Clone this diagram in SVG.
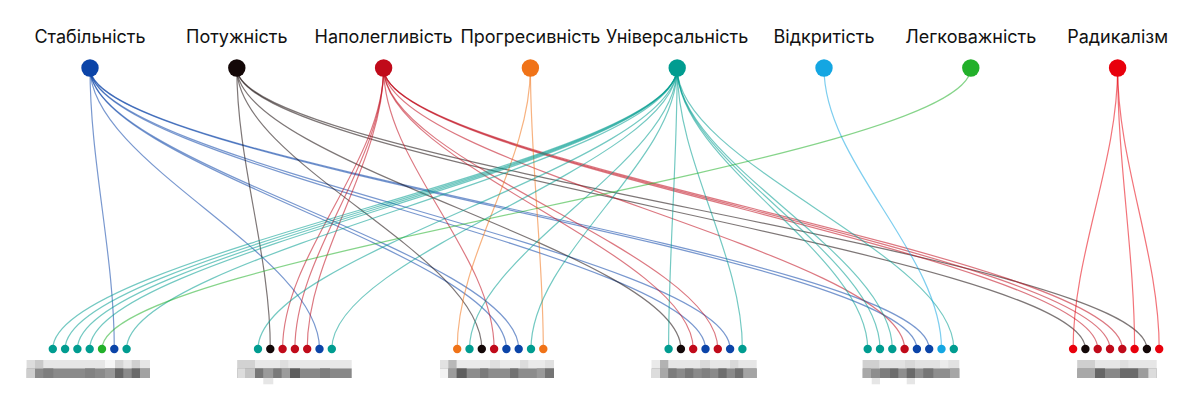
<svg xmlns="http://www.w3.org/2000/svg" width="1200" height="399" viewBox="0 0 1200 399">
<style>
.lbl{font-family:Inter,"Noto Sans","Liberation Sans",sans-serif;font-size:18px;fill:#111;text-anchor:middle}
.e{fill:none;stroke-width:1.2;stroke-opacity:.55}
.s-stab{stroke:#0b44a8}.f-stab{fill:#0b44a8}
.s-pot{stroke:#140808}.f-pot{fill:#140808}
.s-nap{stroke:#c00a1a}.f-nap{fill:#c00a1a}
.s-prog{stroke:#f07318}.f-prog{fill:#f07318}
.s-univ{stroke:#009c90}.f-univ{fill:#009c90}
.s-vid{stroke:#14a6e2}.f-vid{fill:#14a6e2}
.s-leg{stroke:#22b02a}.f-leg{fill:#22b02a}
.s-rad{stroke:#e8000c}.f-rad{fill:#e8000c}
.m rect{stroke:none}
</style>
<rect width="1200" height="399" fill="#fff"/>
<g id="connectors">
<path class="e s-stab" d="M90,68 C90,163 114.3,254 114.3,349"/>
<path class="e s-stab" d="M90,68 C90,163 319.5,254 319.5,349"/>
<path class="e s-stab" d="M90,68 C90,163 506.4,254 506.4,349"/>
<path class="e s-stab" d="M90,68 C90,163 518.7,254 518.7,349"/>
<path class="e s-stab" d="M90,68 C90,163 705.5,254 705.5,349"/>
<path class="e s-stab" d="M90,68 C90,163 730.1,254 730.1,349"/>
<path class="e s-stab" d="M90,68 C90,163 916.9,254 916.9,349"/>
<path class="e s-stab" d="M90,68 C90,163 929.2,254 929.2,349"/>
<path class="e s-pot" d="M236.8,68 C236.8,163 270.3,254 270.3,349"/>
<path class="e s-pot" d="M236.8,68 C236.8,163 481.8,254 481.8,349"/>
<path class="e s-pot" d="M236.8,68 C236.8,163 680.9,254 680.9,349"/>
<path class="e s-pot" d="M236.8,68 C236.8,163 1085.4,254 1085.4,349"/>
<path class="e s-pot" d="M236.8,68 C236.8,163 1146.9,254 1146.9,349"/>
<path class="e s-nap" d="M383.6,68 C383.6,163 282.6,254 282.6,349"/>
<path class="e s-nap" d="M383.6,68 C383.6,163 294.9,254 294.9,349"/>
<path class="e s-nap" d="M383.6,68 C383.6,163 307.2,254 307.2,349"/>
<path class="e s-nap" d="M383.6,68 C383.6,163 494.1,254 494.1,349"/>
<path class="e s-nap" d="M383.6,68 C383.6,163 693.2,254 693.2,349"/>
<path class="e s-nap" d="M383.6,68 C383.6,163 717.8,254 717.8,349"/>
<path class="e s-nap" d="M383.6,68 C383.6,163 904.6,254 904.6,349"/>
<path class="e s-nap" d="M383.6,68 C383.6,163 1097.7,254 1097.7,349"/>
<path class="e s-nap" d="M383.6,68 C383.6,163 1110,254 1110,349"/>
<path class="e s-nap" d="M383.6,68 C383.6,163 1122.3,254 1122.3,349"/>
<path class="e s-prog" d="M530.4,68 C530.4,163 457.2,254 457.2,349"/>
<path class="e s-prog" d="M530.4,68 C530.4,163 543.3,254 543.3,349"/>
<path class="e s-univ" d="M677.2,68 C677.2,163 52.8,254 52.8,349"/>
<path class="e s-univ" d="M677.2,68 C677.2,163 65.1,254 65.1,349"/>
<path class="e s-univ" d="M677.2,68 C677.2,163 77.4,254 77.4,349"/>
<path class="e s-univ" d="M677.2,68 C677.2,163 89.7,254 89.7,349"/>
<path class="e s-univ" d="M677.2,68 C677.2,163 126.6,254 126.6,349"/>
<path class="e s-univ" d="M677.2,68 C677.2,163 258,254 258,349"/>
<path class="e s-univ" d="M677.2,68 C677.2,163 331.8,254 331.8,349"/>
<path class="e s-univ" d="M677.2,68 C677.2,163 469.5,254 469.5,349"/>
<path class="e s-univ" d="M677.2,68 C677.2,163 531,254 531,349"/>
<path class="e s-univ" d="M677.2,68 C677.2,163 668.6,254 668.6,349"/>
<path class="e s-univ" d="M677.2,68 C677.2,163 742.4,254 742.4,349"/>
<path class="e s-univ" d="M677.2,68 C677.2,163 867.7,254 867.7,349"/>
<path class="e s-univ" d="M677.2,68 C677.2,163 880,254 880,349"/>
<path class="e s-univ" d="M677.2,68 C677.2,163 892.3,254 892.3,349"/>
<path class="e s-univ" d="M677.2,68 C677.2,163 953.8,254 953.8,349"/>
<path class="e s-vid" d="M824,68 C824,163 941.5,254 941.5,349"/>
<path class="e s-leg" d="M970.8,68 C970.8,163 102,254 102,349"/>
<path class="e s-rad" d="M1117.6,68 C1117.6,163 1073.1,254 1073.1,349"/>
<path class="e s-rad" d="M1117.6,68 C1117.6,163 1134.6,254 1134.6,349"/>
<path class="e s-rad" d="M1117.6,68 C1117.6,163 1159.2,254 1159.2,349"/>
</g>
<g id="node-stabilnist"><text class="lbl" x="90" y="43">Стабільність</text><circle class="f-stab" cx="90" cy="68" r="8.7"/></g>
<g id="node-potuzhnist"><text class="lbl" x="236.8" y="43">Потужність</text><circle class="f-pot" cx="236.8" cy="68" r="8.7"/></g>
<g id="node-napolehlyvist"><text class="lbl" x="383.6" y="43">Наполегливість</text><circle class="f-nap" cx="383.6" cy="68" r="8.7"/></g>
<g id="node-prohresyvnist"><text class="lbl" x="530.4" y="43">Прогресивність</text><circle class="f-prog" cx="530.4" cy="68" r="8.7"/></g>
<g id="node-universalnist"><text class="lbl" x="677.2" y="43">Універсальність</text><circle class="f-univ" cx="677.2" cy="68" r="8.7"/></g>
<g id="node-vidkrytist"><text class="lbl" x="824" y="43">Відкритість</text><circle class="f-vid" cx="824" cy="68" r="8.7"/></g>
<g id="node-lehkovazhnist"><text class="lbl" x="970.8" y="43">Легковажність</text><circle class="f-leg" cx="970.8" cy="68" r="8.7"/></g>
<g id="node-radykalizm"><text class="lbl" x="1117.6" y="43">Радикалізм</text><circle class="f-rad" cx="1117.6" cy="68" r="8.7"/></g>
<g id="group-1">
<g class="m">
<rect x="26.7" y="360" width="123.3" height="8.4" fill="#e6e6e6"/>
<rect x="26.7" y="360" width="8.3" height="8.4" fill="#dcdcdc"/>
<rect x="35" y="360" width="8.3" height="8.4" fill="#c9c9c9"/>
<rect x="105" y="360" width="10" height="8.4" fill="#f6f6f6"/>
<rect x="115" y="360" width="8.3" height="8.4" fill="#d4d4d4"/>
<rect x="131.7" y="360" width="8.3" height="8.4" fill="#d0d0d0"/>
<rect x="26.7" y="368.4" width="123.3" height="9.6" fill="#8a8a8a"/>
<rect x="26.7" y="368.4" width="8.3" height="9.6" fill="#cdcdcd"/>
<rect x="43.3" y="368.4" width="10" height="9.6" fill="#7e7e7e"/>
<rect x="85" y="368.4" width="10" height="9.6" fill="#828282"/>
<rect x="105" y="368.4" width="10" height="9.6" fill="#989898"/>
<rect x="115" y="368.4" width="8.3" height="9.6" fill="#666"/>
<rect x="131.7" y="368.4" width="8.3" height="9.6" fill="#6a6a6a"/>
<rect x="140" y="368.4" width="10" height="9.6" fill="#a2a2a2"/>
</g>
<circle class="f-univ" cx="52.8" cy="349" r="4.2"/>
<circle class="f-univ" cx="65.1" cy="349" r="4.2"/>
<circle class="f-univ" cx="77.4" cy="349" r="4.2"/>
<circle class="f-univ" cx="89.7" cy="349" r="4.2"/>
<circle class="f-leg" cx="102" cy="349" r="4.2"/>
<circle class="f-stab" cx="114.3" cy="349" r="4.2"/>
<circle class="f-univ" cx="126.6" cy="349" r="4.2"/>
</g>
<g id="group-2">
<g class="m">
<rect x="237.3" y="360" width="114.4" height="8.4" fill="#e8e8e8"/>
<rect x="237.3" y="360" width="17.7" height="8.4" fill="#d2d2d2"/>
<rect x="280" y="360" width="8.3" height="8.4" fill="#dedede"/>
<rect x="237.3" y="368.4" width="114.4" height="9.6" fill="#888"/>
<rect x="237.3" y="368.4" width="7.7" height="9.6" fill="#dcdcdc"/>
<rect x="245" y="368.4" width="10" height="9.6" fill="#c4c4c4"/>
<rect x="255" y="368.4" width="8.3" height="9.6" fill="#777"/>
<rect x="263.3" y="368.4" width="10" height="9.6" fill="#9a9a9a"/>
<rect x="273.3" y="368.4" width="8.3" height="9.6" fill="#7a7a7a"/>
<rect x="281.7" y="368.4" width="8.3" height="9.6" fill="#9c9c9c"/>
<rect x="290" y="368.4" width="10" height="9.6" fill="#5e5e5e"/>
<rect x="320" y="368.4" width="10" height="9.6" fill="#7c7c7c"/>
<rect x="263.3" y="378" width="10" height="6.3" fill="#e6e6e6"/>
</g>
<circle class="f-univ" cx="258" cy="349" r="4.2"/>
<circle class="f-pot" cx="270.3" cy="349" r="4.2"/>
<circle class="f-nap" cx="282.6" cy="349" r="4.2"/>
<circle class="f-nap" cx="294.9" cy="349" r="4.2"/>
<circle class="f-nap" cx="307.2" cy="349" r="4.2"/>
<circle class="f-stab" cx="319.5" cy="349" r="4.2"/>
<circle class="f-univ" cx="331.8" cy="349" r="4.2"/>
</g>
<g id="group-3">
<g class="m">
<rect x="440" y="360" width="114" height="8.4" fill="#eaeaea"/>
<rect x="440" y="360" width="8.3" height="8.4" fill="#e2e2e2"/>
<rect x="448.3" y="360" width="8.3" height="8.4" fill="#b8b8b8"/>
<rect x="490" y="360" width="10" height="8.4" fill="#e0e0e0"/>
<rect x="520" y="360" width="8.3" height="8.4" fill="#dcdcdc"/>
<rect x="545" y="360" width="9" height="8.4" fill="#e0e0e0"/>
<rect x="440" y="368.4" width="114" height="9.6" fill="#8c8c8c"/>
<rect x="440" y="368.4" width="8.3" height="9.6" fill="#f2f2f2"/>
<rect x="448.3" y="368.4" width="8.3" height="9.6" fill="#9c9c9c"/>
<rect x="456.7" y="368.4" width="10" height="9.6" fill="#5e5e5e"/>
<rect x="480" y="368.4" width="8.3" height="9.6" fill="#7a7a7a"/>
<rect x="510" y="368.4" width="8.3" height="9.6" fill="#727272"/>
<rect x="536.7" y="368.4" width="8.3" height="9.6" fill="#9a9a9a"/>
<rect x="545" y="368.4" width="9" height="9.6" fill="#747474"/>
</g>
<circle class="f-prog" cx="457.2" cy="349" r="4.2"/>
<circle class="f-univ" cx="469.5" cy="349" r="4.2"/>
<circle class="f-pot" cx="481.8" cy="349" r="4.2"/>
<circle class="f-nap" cx="494.1" cy="349" r="4.2"/>
<circle class="f-stab" cx="506.4" cy="349" r="4.2"/>
<circle class="f-stab" cx="518.7" cy="349" r="4.2"/>
<circle class="f-univ" cx="531" cy="349" r="4.2"/>
<circle class="f-prog" cx="543.3" cy="349" r="4.2"/>
</g>
<g id="group-4">
<g class="m">
<rect x="651.7" y="360" width="105" height="8.4" fill="#e6e6e6"/>
<rect x="651.7" y="360" width="8.3" height="8.4" fill="#eaeaea"/>
<rect x="660" y="360" width="8.3" height="8.4" fill="#b2b2b2"/>
<rect x="700" y="360" width="10" height="8.4" fill="#dadada"/>
<rect x="730" y="360" width="8.3" height="8.4" fill="#d8d8d8"/>
<rect x="651.7" y="368.4" width="105" height="9.6" fill="#8a8a8a"/>
<rect x="651.7" y="368.4" width="8.3" height="9.6" fill="#dcdcdc"/>
<rect x="660" y="368.4" width="8.3" height="9.6" fill="#a8a8a8"/>
<rect x="668.3" y="368.4" width="8.3" height="9.6" fill="#7c7c7c"/>
<rect x="685" y="368.4" width="8.3" height="9.6" fill="#777"/>
<rect x="701.7" y="368.4" width="8.3" height="9.6" fill="#808080"/>
<rect x="718.3" y="368.4" width="8.3" height="9.6" fill="#6e6e6e"/>
<rect x="735" y="368.4" width="8.3" height="9.6" fill="#707070"/>
<rect x="743.3" y="368.4" width="13.4" height="9.6" fill="#a4a4a4"/>
</g>
<circle class="f-univ" cx="668.6" cy="349" r="4.2"/>
<circle class="f-pot" cx="680.9" cy="349" r="4.2"/>
<circle class="f-nap" cx="693.2" cy="349" r="4.2"/>
<circle class="f-stab" cx="705.5" cy="349" r="4.2"/>
<circle class="f-nap" cx="717.8" cy="349" r="4.2"/>
<circle class="f-stab" cx="730.1" cy="349" r="4.2"/>
<circle class="f-univ" cx="742.4" cy="349" r="4.2"/>
</g>
<g id="group-5">
<g class="m">
<rect x="862.7" y="360" width="96.6" height="8.4" fill="#e2e2e2"/>
<rect x="862.7" y="360" width="16.6" height="8.4" fill="#d0d0d0"/>
<rect x="905" y="360" width="10" height="8.4" fill="#d8d8d8"/>
<rect x="940" y="360" width="8.3" height="8.4" fill="#ececec"/>
<rect x="862.7" y="368.4" width="96.6" height="9.6" fill="#8e8e8e"/>
<rect x="862.7" y="368.4" width="8.3" height="9.6" fill="#a8a8a8"/>
<rect x="880" y="368.4" width="10" height="9.6" fill="#7c7c7c"/>
<rect x="890" y="368.4" width="8.3" height="9.6" fill="#6c6c6c"/>
<rect x="906.7" y="368.4" width="8.3" height="9.6" fill="#6a6a6a"/>
<rect x="923.3" y="368.4" width="10" height="9.6" fill="#767676"/>
<rect x="950" y="368.4" width="9.3" height="9.6" fill="#a6a6a6"/>
<rect x="871.7" y="378" width="8.3" height="6.3" fill="#e6e6e6"/>
<rect x="906.7" y="378" width="8.3" height="6.3" fill="#e6e6e6"/>
</g>
<circle class="f-univ" cx="867.7" cy="349" r="4.2"/>
<circle class="f-univ" cx="880" cy="349" r="4.2"/>
<circle class="f-univ" cx="892.3" cy="349" r="4.2"/>
<circle class="f-nap" cx="904.6" cy="349" r="4.2"/>
<circle class="f-stab" cx="916.9" cy="349" r="4.2"/>
<circle class="f-stab" cx="929.2" cy="349" r="4.2"/>
<circle class="f-vid" cx="941.5" cy="349" r="4.2"/>
<circle class="f-univ" cx="953.8" cy="349" r="4.2"/>
</g>
<g id="group-6">
<g class="m">
<rect x="1077.3" y="360" width="79.4" height="8.4" fill="#e6e6e6"/>
<rect x="1077.3" y="360" width="17.7" height="8.4" fill="#cfcfcf"/>
<rect x="1120" y="360" width="8.3" height="8.4" fill="#dedede"/>
<rect x="1077.3" y="368.4" width="79.4" height="9.6" fill="#888"/>
<rect x="1077.3" y="368.4" width="17.7" height="9.6" fill="#a8a8a8"/>
<rect x="1095" y="368.4" width="10" height="9.6" fill="#666"/>
<rect x="1120" y="368.4" width="18.3" height="9.6" fill="#6a6a6a"/>
<rect x="1138.3" y="368.4" width="10" height="9.6" fill="#9c9c9c"/>
<rect x="1148.3" y="368.4" width="8.4" height="9.6" fill="#dcdcdc"/>
</g>
<circle class="f-rad" cx="1073.1" cy="349" r="4.2"/>
<circle class="f-pot" cx="1085.4" cy="349" r="4.2"/>
<circle class="f-nap" cx="1097.7" cy="349" r="4.2"/>
<circle class="f-nap" cx="1110" cy="349" r="4.2"/>
<circle class="f-nap" cx="1122.3" cy="349" r="4.2"/>
<circle class="f-rad" cx="1134.6" cy="349" r="4.2"/>
<circle class="f-pot" cx="1146.9" cy="349" r="4.2"/>
<circle class="f-rad" cx="1159.2" cy="349" r="4.2"/>
</g>
</svg>
